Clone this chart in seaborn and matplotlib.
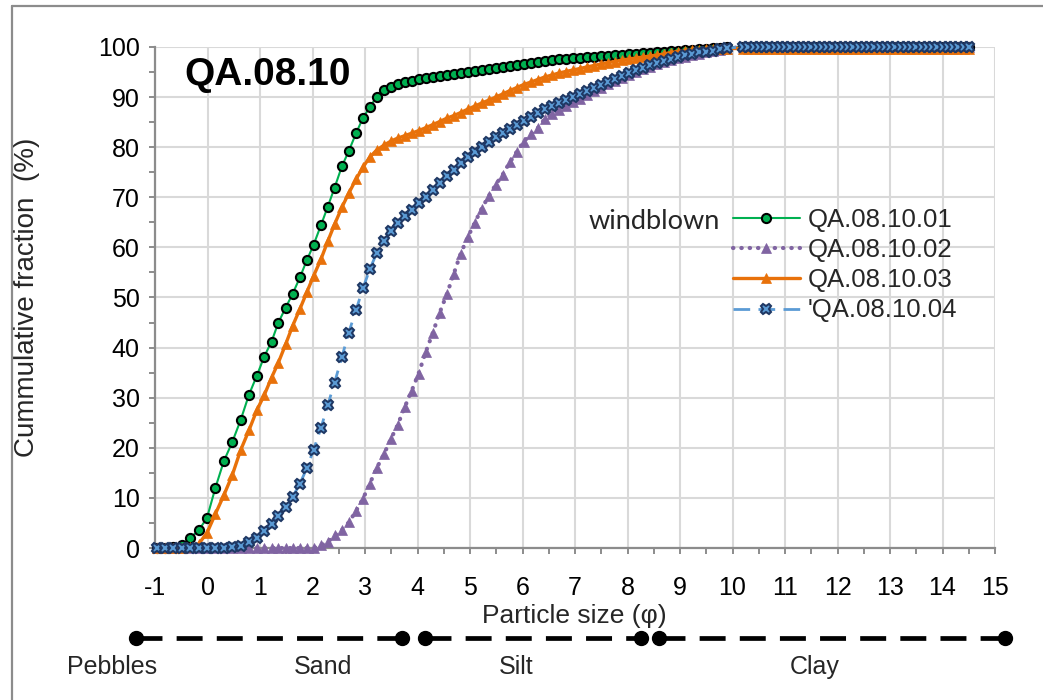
import numpy as np
import pandas as pd
import matplotlib
matplotlib.use("Agg")
import matplotlib.pyplot as plt
import matplotlib.transforms as mtransforms
from matplotlib.lines import Line2D
import seaborn as sns

# ---------------- data ----------------
phi = [
    -0.97, -0.81, -0.65, -0.49, -0.33, -0.17, -0.01, 0.15, 0.31, 0.47, 0.63, 0.79, 0.94,
    1.08, 1.22, 1.35, 1.49, 1.62, 1.76, 1.89,
    2.02, 2.16, 2.29, 2.42, 2.56, 2.69, 2.83, 2.96,
    3.09, 3.22, 3.36, 3.49, 3.62, 3.76, 3.89,
    4.02, 4.16, 4.29, 4.42, 4.56, 4.69, 4.82, 4.96,
    5.09, 5.22, 5.36, 5.49, 5.62, 5.76, 5.89,
    6.02, 6.16, 6.29, 6.42, 6.56, 6.69, 6.82, 6.96,
    7.09, 7.22, 7.36, 7.49, 7.62, 7.76, 7.89,
    8.02, 8.16, 8.29, 8.42, 8.56, 8.69, 8.82, 8.96,
    9.09, 9.22, 9.36, 9.49, 9.62, 9.76, 9.89,
    10.2, 10.3, 10.4, 10.5, 10.6, 10.7, 10.8, 10.9, 11.0, 11.1, 11.2,
    11.3, 11.4, 11.5, 11.6, 11.7, 11.8, 11.9, 12.0, 12.1, 12.2, 12.3,
    12.4, 12.5, 12.6, 12.7, 12.8, 12.9, 13.0, 13.1, 13.2, 13.3, 13.4,
    13.5, 13.6, 13.7, 13.8, 13.9, 14.0, 14.1, 14.2, 14.3, 14.4, 14.5,
]

qa01 = [
    0, 0, 0.1, 0.5, 2.0, 3.5, 6.0, 12.0, 17.3, 21.1, 25.5, 30.6, 34.4,
    38.2, 41.2, 45.0, 48.0, 50.7, 54.0, 57.4,
    60.5, 64.4, 68.1, 71.9, 76.2, 79.2, 82.8, 85.8,
    88.0, 90.0, 91.4, 92.1, 92.6, 93.0, 93.3,
    93.6, 93.8, 94.0, 94.2, 94.4, 94.6, 94.8, 95.0,
    95.3, 95.5, 95.7, 95.9, 96.1, 96.3, 96.5,
    96.7, 96.9, 97.1, 97.3, 97.4, 97.6, 97.7, 97.8,
    97.9, 98.0, 98.1, 98.2, 98.3, 98.4, 98.5,
    98.6, 98.7, 98.8, 98.9, 99.0, 99.1, 99.2, 99.3,
    99.4, 99.5, 99.6, 99.7, 99.8, 99.9, 100,
    100, 100, 100, 100, 100, 100, 100, 100, 100, 100, 100,
    100, 100, 100, 100, 100, 100, 100, 100, 100, 100, 100,
    100, 100, 100, 100, 100, 100, 100, 100, 100, 100, 100,
    100, 100, 100, 100, 100, 100, 100, 100, 100, 100, 100,
]

qa02 = [
    0, 0, 0, 0, 0, 0, 0, 0, 0, 0, 0, 0, 0,
    0, 0, 0, 0, 0, 0, 0,
    0, 0.5, 1.2, 2.5, 3.6, 5.1, 7.4, 9.8,
    12.8, 15.9, 18.7, 21.7, 24.5, 28.2, 31.4,
    34.8, 39.2, 42.9, 46.9, 50.7, 54.7, 58.7, 62.1,
    64.9, 67.7, 70.3, 72.5, 74.5, 77.0, 79.1,
    81.1, 82.6, 83.8, 85.6, 86.6, 87.5, 88.3, 89.0,
    89.6, 90.4, 91.2, 91.9, 92.6, 93.3, 93.9,
    94.5, 95.1, 95.6, 96.1, 96.6, 97.0, 97.4, 97.8,
    98.1, 98.4, 98.7, 99.0, 99.3, 99.5, 99.7,
    100, 100, 100, 100, 100, 100, 100, 100, 100, 100, 100,
    100, 100, 100, 100, 100, 100, 100, 100, 100, 100, 100,
    100, 100, 100, 100, 100, 100, 100, 100, 100, 100, 100,
    100, 100, 100, 100, 100, 100, 100, 100, 100, 100, 100,
]

qa03 = [
    0, 0, 0, 0, 0.2, 0.8, 3.0, 6.8, 10.5, 14.5, 19.5, 23.5, 27.5,
    30.5, 34.0, 37.0, 40.7, 44.3, 47.7, 51.0,
    54.3, 57.6, 61.2, 64.6, 68.0, 70.8, 73.6, 76.0,
    78.0, 79.4, 80.4, 81.2, 81.8, 82.3, 82.8,
    83.3, 83.9, 84.5, 85.1, 85.8, 86.3, 86.9, 87.6,
    88.2, 88.8, 89.4, 90.0, 90.6, 91.3, 91.9,
    92.5, 93.0, 93.5, 94.0, 94.4, 94.8, 95.1, 95.4,
    95.7, 96.0, 96.3, 96.6, 96.9, 97.1, 97.4,
    97.6, 97.8, 98.0, 98.2, 98.4, 98.6, 98.9, 99.1,
    99.3, 99.4, 99.5, 99.6, 99.6, 99.7, 99.7,
    99.7, 99.7, 99.7, 99.7, 99.7, 99.7, 99.7, 99.7, 99.7, 99.7, 99.7,
    99.7, 99.7, 99.7, 99.7, 99.7, 99.7, 99.7, 99.7, 99.7, 99.7, 99.7,
    99.7, 99.7, 99.7, 99.7, 99.7, 99.7, 99.7, 99.7, 99.7, 99.7, 99.7,
    99.7, 99.7, 99.7, 99.7, 99.7, 99.7, 99.7, 99.7, 99.7, 99.7, 99.7,
]

qa04 = [
    0, 0, 0, 0, 0, 0, 0, 0, 0, 0.1, 0.3, 1.2, 2.0,
    3.3, 4.7, 6.3, 8.1, 10.2, 12.8, 15.9,
    19.6, 23.9, 28.5, 33.0, 38.1, 43.0, 47.5, 51.8,
    55.6, 58.8, 61.3, 63.3, 64.9, 66.3, 67.5,
    68.8, 70.1, 71.5, 72.9, 74.3, 75.4, 76.8, 78.0,
    79.1, 80.1, 81.1, 82.0, 82.8, 83.6, 84.4,
    85.3, 86.1, 86.9, 87.6, 88.2, 88.9, 89.5, 90.1,
    90.6, 91.2, 91.8, 92.4, 93.0, 93.6, 94.2,
    94.8, 95.4, 95.9, 96.4, 96.9, 97.3, 97.7, 98.1,
    98.4, 98.7, 99.0, 99.1, 99.3, 99.6, 99.8,
    100, 100, 100, 100, 100, 100, 100, 100, 100, 100, 100,
    100, 100, 100, 100, 100, 100, 100, 100, 100, 100, 100,
    100, 100, 100, 100, 100, 100, 100, 100, 100, 100, 100,
    100, 100, 100, 100, 100, 100, 100, 100, 100, 100, 100,
]

series_names = ["QA.08.10.01", "QA.08.10.02", "QA.08.10.03", "'QA.08.10.04"]
x_ticks = list(range(-1, 16))
y_ticks = list(range(0, 101, 10))
title = "QA.08.10"
group_label = "windblown"
x_label = "Particle size (\u03c6)"
y_label = "Cummulative fraction  (%)"

# grain-size class scale below the axis (phi values of the class bounds)
class_segments = [(-1.36, 3.70), (4.14, 8.26), (8.60, 15.19)]
class_names = ["Pebbles", "Sand", "Silt", "Clay"]
class_name_x = [-1.82, 2.2, 5.88, 11.57]

for s in (qa01, qa02, qa03, qa04):
    assert len(s) == len(phi)

df = pd.DataFrame({"phi": phi, series_names[0]: qa01, series_names[1]: qa02,
                   series_names[2]: qa03, series_names[3]: qa04})

# ---------------- figure ----------------
sns.set_theme(style="white")
plt.rcParams["font.family"] = ["Liberation Sans", "DejaVu Sans"]

W, H = 1043, 700
fig = plt.figure(figsize=(W / 100, H / 100), dpi=100)
L, R, T, B = 155, 995, 47, 548
ax = fig.add_axes([L / W, 1 - B / H, (R - L) / W, (B - T) / H])

styles = [
    dict(color="#00B050", lw=1.5, marker="o", markersize=6.6, markerfacecolor="#00B050",
         markeredgecolor="black", markeredgewidth=1.5, linestyle="-"),
    dict(color="#8064A2", lw=3.0, marker="^", markersize=6.8, markerfacecolor="#8064A2",
         markeredgecolor="#8064A2", markeredgewidth=0.5, linestyle=(0, (0.1, 1.9)),
         dash_capstyle="round"),
    dict(color="#E8710A", lw=2.4, marker="^", markersize=7, markerfacecolor="#E8710A",
         markeredgecolor="#E8710A", markeredgewidth=0.5, linestyle="-"),
    dict(color="#5B9BD5", lw=2.0, marker="X", markersize=7.5, markerfacecolor="#5B9BD5",
         markeredgecolor="#1F3864", markeredgewidth=1.5, linestyle=(0, (6, 3))),
]

for name, st in zip(series_names, styles):
    sns.lineplot(data=df, x="phi", y=name, ax=ax, label=name, clip_on=False,
                 zorder=3, sort=False, estimator=None, **st)

ax.set_xlim(-1, 15)
ax.set_ylim(0, 100)
ax.set_xticks(x_ticks)
ax.set_xticks(np.arange(-0.5, 15, 1), minor=True)
ax.set_yticks(y_ticks)
ax.set_yticks(np.arange(5, 100, 10), minor=True)
ax.set_xticklabels([str(v) for v in x_ticks])
ax.set_yticklabels([str(v) for v in y_ticks])
ax.set_xlabel("")
ax.set_ylabel("")

ax.grid(True, which="major", color="#D9D9D9", lw=1.5)
ax.set_axisbelow(True)
for s in ("top", "right"):
    ax.spines[s].set_visible(False)
for s in ("left", "bottom"):
    ax.spines[s].set_color("#8C8C8C")
    ax.spines[s].set_linewidth(1.6)

ax.tick_params(axis="both", which="both", direction="out", length=4, width=1.4,
               color="#8C8C8C", bottom=True, left=True)
ax.tick_params(axis="x", which="major", pad=16, labelsize=18, labelcolor="black")
ax.tick_params(axis="y", which="major", pad=7, labelsize=18, labelcolor="black")

# title inside plot
ax.text(-0.45, 94.5, title, fontsize=28, fontweight="bold", ha="left", va="center",
        color="black", zorder=5)

# axis labels
ax.text((27 - L) / (R - L), 0.5, y_label, transform=ax.transAxes, rotation=90,
        ha="center", va="center", fontsize=20)
ax.text((574 - L) / (R - L), (B - 616) / (B - T), x_label, transform=ax.transAxes,
        ha="center", va="center", fontsize=19)

# legend
handles, labels = ax.get_legend_handles_labels()
leg = ax.legend(handles, labels, loc="upper left",
                bbox_to_anchor=((733 - L) / (R - L), (B - 208) / (B - T)),
                frameon=False, fontsize=18.5, handlelength=2.6, handletextpad=0.3,
                labelspacing=0.24, borderpad=0, borderaxespad=0, numpoints=1)
ax.text((720 - L) / (R - L), (B - 222) / (B - T), group_label, transform=ax.transAxes,
        ha="right", va="center", fontsize=19.5, family=["Lato", "DejaVu Sans"])

# grain-size class scale
trans = mtransforms.blended_transform_factory(ax.transData, ax.transAxes)
ybar = (B - 638) / (B - T)
for a, b in class_segments:
    ax.plot([a, b], [ybar, ybar], transform=trans, color="black", lw=3.4,
            linestyle=(0, (5.5, 3)), clip_on=False)
    ax.plot([a, b], [ybar, ybar], transform=trans, color="black", lw=0,
            marker="o", markersize=10, clip_on=False)
ylab = (B - 667) / (B - T)
for name, xv in zip(class_names, class_name_x):
    ax.text(xv, ylab, name, transform=trans, ha="center", va="center", fontsize=18)

# outer frame (top and left edge of chart area)
fig.add_artist(Line2D([12 / W, 1], [1 - 6 / H, 1 - 6 / H], transform=fig.transFigure,
                      color="#8C8C8C", lw=1.6))
fig.add_artist(Line2D([12 / W, 12 / W], [0, 1 - 6 / H], transform=fig.transFigure,
                      color="#8C8C8C", lw=1.6))

fig.savefig("out.png", dpi=100)
